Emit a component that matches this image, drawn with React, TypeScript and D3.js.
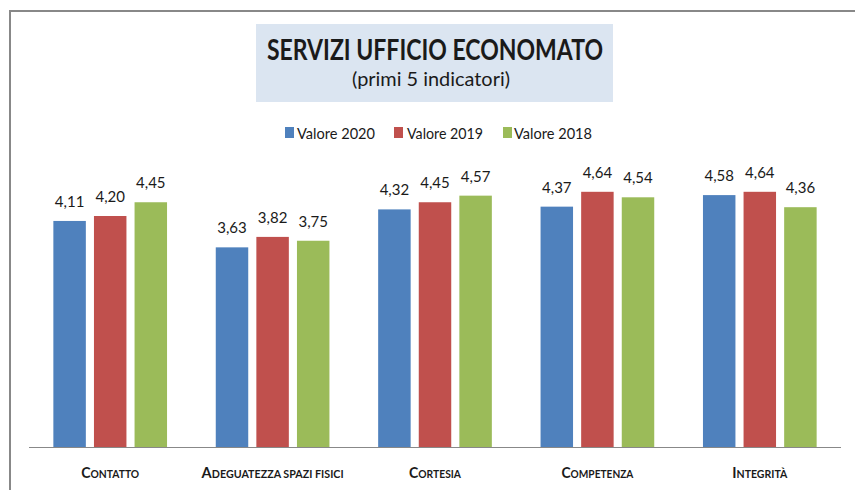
import React from "react";
import * as d3 from "d3";

const categories = ["Contatto", "Adeguatezza spazi fisici", "Cortesia", "Competenza", "Integrità"];
const seriesNames = ["Valore 2020", "Valore 2019", "Valore 2018"];
const v2020 = [4.11, 3.63, 4.32, 4.37, 4.58];
const v2019 = [4.2, 3.82, 4.45, 4.64, 4.64];
const v2018 = [4.45, 3.75, 4.57, 4.54, 4.36];
const colors = ["#4f81bd", "#c0504d", "#9bbb59"];

const W = 855;
const H = 490;
const FONT = "Lato, 'Open Sans', sans-serif";

export default function App() {
  const series = [v2020, v2019, v2018];
  const x = d3.scaleBand<string>().domain(categories).range([29, 841]).padding(0);
  const y = d3.scaleLinear().domain([0, 5]).range([447, 172]);
  const bw = x.bandwidth() / 5;
  const fmt = (v: number) => d3.format(".2f")(v).replace(".", ",");

  const legendItems = [
    { sq: 285, tx: 297, tw: 78 },
    { sq: 394, tx: 407, tw: 76 },
    { sq: 503, tx: 514, tw: 78 },
  ];
  const catWidths = [58, 142, 52, 72, 55];

  return (
    <div style={{ position: "absolute", left: 0, top: 0 }}>
      <svg width={W} height={H} style={{ display: "block", background: "#fff" }}>
        <rect x={10} y={11} width={900} height={600} fill="#fff" stroke="#888" strokeWidth={2} />
        <rect x={256} y={24} width={357} height={78} fill="#dbe5f1" />
        <text x={435} y={60} textAnchor="middle" fontFamily={FONT} fontWeight="bold" fontSize={29}
          fill="#1a1a1a" textLength={336} lengthAdjust="spacingAndGlyphs">SERVIZI UFFICIO ECONOMATO</text>
        <text x={431} y={86} textAnchor="middle" fontFamily={FONT} fontSize={20}
          fill="#1a1a1a" textLength={158} lengthAdjust="spacingAndGlyphs">(primi 5 indicatori)</text>

        {seriesNames.map((n, i) => (
          <g key={n}>
            <rect x={legendItems[i].sq} y={127} width={9} height={11} fill={colors[i]} />
            <text x={legendItems[i].tx} y={139} fontFamily={FONT} fontSize={16} fill="#1a1a1a"
              textLength={legendItems[i].tw} lengthAdjust="spacingAndGlyphs">{n}</text>
          </g>
        ))}

        {categories.map((c, ci) => {
          const cx = (x(c) as number) + x.bandwidth() / 2;
          return (
            <g key={c}>
              {series.map((s, si) => {
                const bx = cx - 1.75 * bw + si * 1.25 * bw;
                return (
                  <g key={si}>
                    <rect x={bx} y={y(s[ci])} width={bw} height={y(0) - y(s[ci])} fill={colors[si]} />
                    <text x={bx + bw / 2} y={y(s[ci]) - 14} textAnchor="middle" fontFamily={FONT}
                      fontSize={15} fill="#1a1a1a">{fmt(s[ci])}</text>
                  </g>
                );
              })}
              <text x={cx} y={478} textAnchor="middle" fontFamily={FONT} fontWeight="bold" fill="#1a1a1a"
                textLength={catWidths[ci]} lengthAdjust="spacingAndGlyphs">
                <tspan fontSize={15}>{c[0].toUpperCase()}</tspan>
                <tspan fontSize={11}>{c.slice(1).toUpperCase()}</tspan>
              </text>
            </g>
          );
        })}

        <line x1={29} x2={841} y1={447.5} y2={447.5} stroke="#888" strokeWidth={1.2} />
      </svg>
    </div>
  );
}
